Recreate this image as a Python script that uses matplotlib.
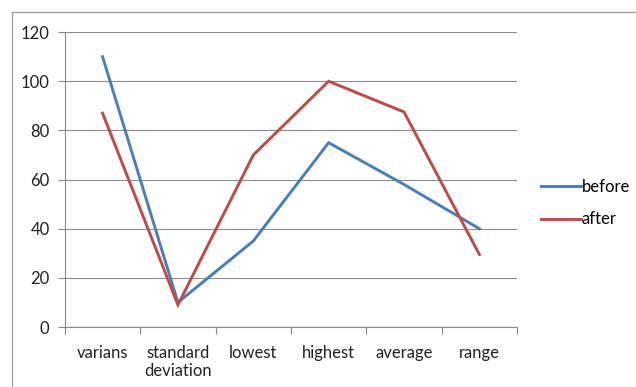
import numpy as np
import matplotlib
matplotlib.use("Agg")
import matplotlib.pyplot as plt
from matplotlib.lines import Line2D

# data
categories = ["varians", "standard\ndeviation", "lowest", "highest", "average", "range"]
before = [110, 10, 35, 75, 58, 40]
after = [87, 9, 70, 100, 87.5, 29.5]
y_ticks = [0, 20, 40, 60, 80, 100, 120]

plt.rcParams['font.family'] = ['Lato', 'DejaVu Sans']

fig = plt.figure(figsize=(6.36, 3.87), dpi=100)
ax = fig.add_axes([0.102, 0.155, 0.711, 0.762])

x = np.arange(len(categories))
ax.plot(x, before, color='#4A7EBB', lw=2.1, label='before', solid_joinstyle='miter')
ax.plot(x, after, color='#BE4B48', lw=2.1, label='after', solid_joinstyle='miter')

ax.set_xlim(-0.5, len(categories) - 0.5)
ax.set_ylim(0, 120)
ax.set_yticks(y_ticks)
ax.set_xticks(x)
ax.set_xticklabels(categories, fontsize=12, color='#222222', linespacing=1.15)
ax.set_xticks(np.arange(len(categories) + 1) - 0.5, minor=True)
ax.tick_params(axis='x', which='major', length=0, pad=13)
ax.tick_params(axis='x', which='minor', length=5, color='#888888', width=0.8)
ax.tick_params(axis='y', length=5, color='#888888', width=0.8, labelsize=12, labelcolor='#222222', pad=6)

ax.grid(axis='y', color='#8c8c8c', lw=0.8)
ax.set_axisbelow(True)
for s in ['top', 'right']:
    ax.spines[s].set_visible(False)
for s in ['left', 'bottom']:
    ax.spines[s].set_color('#888888')
    ax.spines[s].set_linewidth(0.8)

ax.legend(loc='center left', bbox_to_anchor=(1.02, 0.42), frameon=False, fontsize=12,
          handlelength=2.4, handletextpad=0.05, labelspacing=1.0)

# outer chart frame
fig.add_artist(Line2D([12/636, 12/636], [0, 1 - 12/387], color='#999999', lw=0.9))
fig.add_artist(Line2D([12/636, 1], [1 - 12/387, 1 - 12/387], color='#999999', lw=0.9))

fig.savefig('out.png', dpi=100)
